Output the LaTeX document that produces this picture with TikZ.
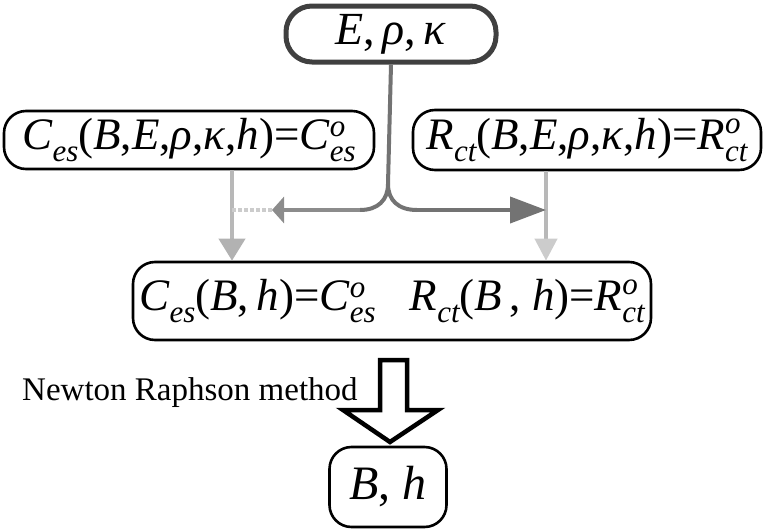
\documentclass[tikz,border=0pt]{standalone}
\usepackage{fontspec}
\setmainfont{Liberation Serif}[ItalicFont={Liberation Serif Italic},BoldFont={Liberation Serif Bold}]
\usetikzlibrary{arrows.meta,calc}
\newcommand\I[1]{\textit{#1}}
\newcommand\Sb[1]{\raisebox{-0.26em}{\fontsize{31}{32}\selectfont\itshape #1}}
\newcommand\SbSp[2]{\raisebox{-0.26em}{\fontsize{31}{32}\selectfont\itshape\shortstack[l]{#1\\[7pt]#2}}}
\begin{document}
\begin{tikzpicture}[x=1pt,y=-1pt,
  box/.style={draw,line width=2.6pt,rounded corners=22pt,inner sep=0pt,font=\fontsize{45}{50}\selectfont},
  conn/.style={line width=4pt,draw=black!55},
  faint/.style={line width=4pt,draw=black!28},
  tip/.style={-{Triangle[length=36pt,width=26pt]}}]
\useasboundingbox (0,0) rectangle (763,530);
\node[box,draw=black!75,line width=5pt,rounded corners=26pt,minimum width=210pt,minimum height=56pt,font=\fontsize{46}{50}\selectfont] (top) at (391,34) {\I{E},\,\I{ρ},\,\I{κ}};
\node[box,minimum width=370pt,minimum height=58pt] (L) at (189,140) {\I{C}\Sb{es}(\I{B},\I{E},\I{ρ},\I{κ},\I{h})=\I{C}\SbSp{o}{es}};
\node[box,minimum width=348pt,minimum height=60pt] (R) at (587,140) {\I{R}\Sb{ct}(\I{B},\I{E},\I{ρ},\I{κ},\I{h})=\I{R}\SbSp{o}{ct}};
\node[box,minimum width=518pt,minimum height=78pt] (M) at (392,301) {\I{C}\Sb{es}(\I{B},\,\I{h})=\I{C}\SbSp{o}{es}\hspace{34pt}\I{R}\Sb{ct}(\I{B}\,, \I{h})=\I{R}\SbSp{o}{ct}};
\node[box,minimum width=117pt,minimum height=80pt,font=\fontsize{48}{50}\selectfont] (bot) at (388,487) {\I{B}, \I{h}};
\node[anchor=base west,inner sep=0pt,font=\fontsize{33}{36}\selectfont] (nr) at (22,400) {Newton Raphson method};
% coordinates for the fork
\coordinate (lx) at (232,0);
\coordinate (rx) at (546,0);
\coordinate (split) at (388,184);
\coordinate (jl) at (360,210);
\coordinate (jr) at (417,210);
\coordinate (lend) at (272,210);
% vertical connectors
\draw[faint] (L.south -| lx) -- ($(M.north -| lx)+(0,-20)$);
\draw[-{Triangle[length=22pt,width=26pt]},line width=4pt,draw=black!30,fill=black!60] ($(M.north -| lx)+(0,-22)$) -- (M.north -| lx);
\draw[faint] (R.south -| rx) -- ($(M.north -| rx)+(0,-20)$);
\draw[-{Triangle[length=22pt,width=22pt]},line width=4pt,draw=black!20,fill=black!25] ($(M.north -| rx)+(0,-22)$) -- (M.north -| rx);
% fork from top
\draw[conn] (top.south) -- (split) .. controls (388,200) and (378,210) .. (jl);
\draw[conn] (split) .. controls (388,200) and (398,210) .. (jr);
\draw[conn,tip] (jr) -- (rx |- jr);
\draw[faint,draw=black!20,dotted] (lend) -- (lx |- lend);
\draw[faint,tip,draw=black!45,-{Triangle[length=12pt,width=26pt]}] (jl) -- (lend);
% hollow arrow
\draw[line width=4.5pt,fill=white,line join=miter] (380,360) -- (407,360) -- (407,410) -- (438,410) -- (390,442) -- (343,410) -- (380,410) -- cycle;
\end{tikzpicture}
\end{document}
